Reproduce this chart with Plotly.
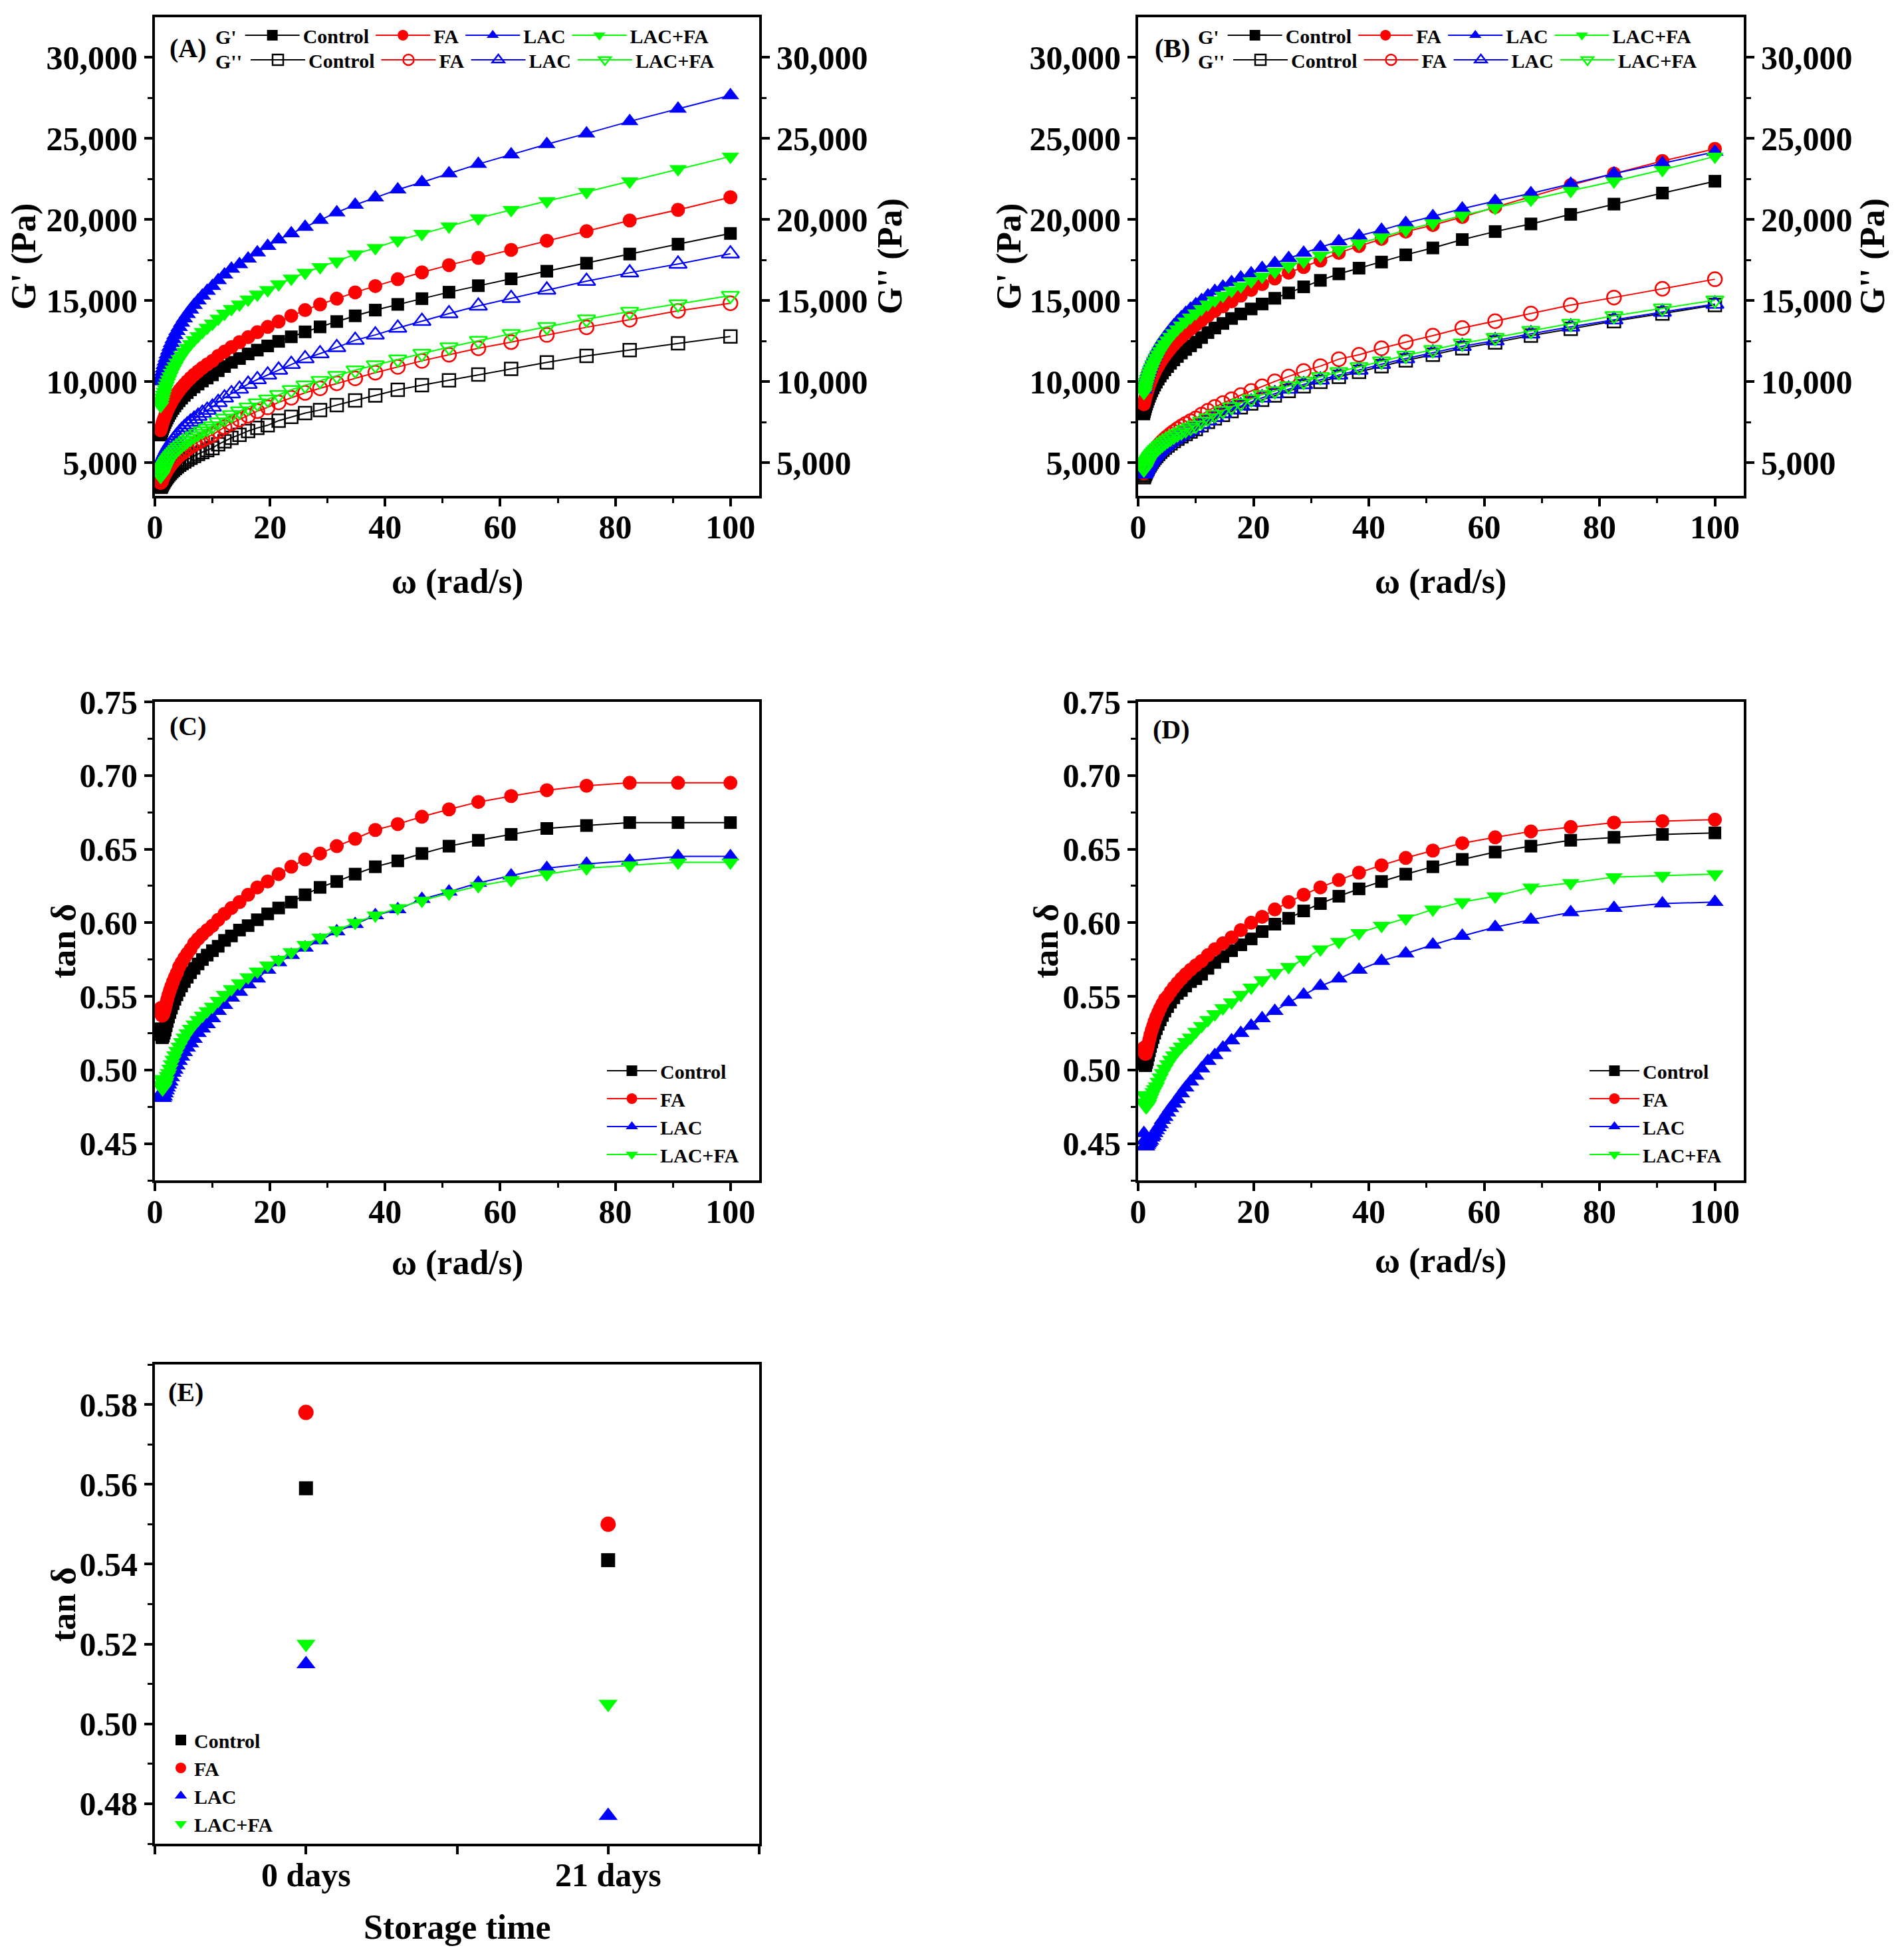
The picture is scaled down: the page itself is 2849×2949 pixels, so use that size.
import plotly.graph_objects as go

# ---------------- data ----------------
W = [1.00, 1.10, 1.21, 1.33, 1.47, 1.62, 1.78, 1.96, 2.15, 2.37, 2.61, 2.87, 3.16, 3.48, 3.83, 4.22,
     4.64, 5.11, 5.62, 6.19, 6.81, 7.50, 8.25, 9.09, 10.0, 11.0, 12.1, 13.3, 14.7, 16.2, 17.8, 19.6,
     21.5, 23.7, 26.1, 28.7, 31.6, 34.8, 38.3, 42.2, 46.4, 51.1, 56.2, 61.9, 68.1, 75.0, 82.5, 90.9, 100.0]

GROUPS = ["Control", "FA", "LAC", "LAC+FA"]

# Panel A (0 days) G' and G''
A_Gp_Control = [6700, 6822, 6948, 7075, 7204, 7338, 7475, 7612, 7753, 7894, 8042, 8191, 8343, 8495, 8654, 8814,
                8977, 9144, 9314, 9488, 9666, 9844, 10030, 10215, 10408, 10667, 10925, 11184, 11419, 11701, 11937,
                12196, 12478, 12759, 13065, 13371, 13700, 14053, 14406, 14759, 15112, 15512, 15912, 16335, 16805,
                17300, 17864, 18475, 19134]
A_Gp_FA = [7000, 7141, 7287, 7432, 7582, 7736, 7894, 8052, 8215, 8378, 8549, 8720, 8895, 9071, 9255, 9438,
           9627, 9819, 10016, 10217, 10422, 10628, 10842, 11056, 11278, 11584, 11843, 12125, 12430, 12736, 13042,
           13371, 13700, 14053, 14406, 14759, 15113, 15500, 15890, 16312, 16735, 17182, 17628, 18122, 18687,
           19275, 19933, 20592, 21368]
A_Gp_LAC = [10000, 10194, 10395, 10595, 10801, 11013, 11231, 11449, 11673, 11897, 12132, 12368, 12609, 12851,
            13104, 13357, 13616, 13882, 14152, 14429, 14712, 14995, 15289, 15584, 15890, 16240, 16595, 16950,
            17230, 17580, 17960, 18360, 18760, 19135, 19535, 19960, 20430, 20900, 21345, 21840, 22290, 22830,
            23415, 24000, 24640, 25300, 26050, 26825, 27650]
A_Gp_LACFA = [8500, 8668, 8841, 9013, 9191, 9374, 9562, 9750, 9944, 10137, 10340, 10543, 10752, 10960, 11179,
              11397, 11621, 11850, 12084, 12322, 12566, 12810, 13065, 13319, 13583, 13889, 14195, 14477, 14759,
              15065, 15370, 15653, 16006, 16358, 16711, 17064, 17417, 17850, 18240, 18710, 19110, 19580, 20075,
              20592, 21133, 21697, 22356, 23109, 23885]
A_Gpp_Control = [3500, 3579, 3660, 3742, 3825, 3911, 4000, 4088, 4179, 4270, 4366, 4462, 4560, 4658, 4761, 4863,
                 4969, 5076, 5186, 5299, 5414, 5528, 5648, 5768, 5892, 6127, 6315, 6527, 6715, 6950, 7138, 7303,
                 7585, 7821, 8056, 8244, 8550, 8832, 9138, 9491, 9773, 10078, 10431, 10784, 11184, 11584, 11937,
                 12360, 12783]
A_Gpp_FA = [3800, 3896, 3995, 4094, 4196, 4301, 4409, 4517, 4628, 4739, 4855, 4972, 5091, 5211, 5336, 5462,
            5590, 5721, 5855, 5992, 6132, 6272, 6418, 6563, 6715, 6950, 7185, 7421, 7656, 7891, 8173, 8409, 8715,
            8997, 9302, 9585, 9890, 10196, 10549, 10902, 11278, 11654, 12054, 12431, 12878, 13348, 13818, 14360,
            14830]
A_Gpp_LAC = [4700, 4823, 4950, 5077, 5208, 5342, 5480, 5618, 5760, 5902, 6051, 6201, 6354, 6507, 6667, 6828,
             6992, 7160, 7332, 7507, 7686, 7866, 8052, 8239, 8433, 8715, 8997, 9256, 9538, 9843, 10126, 10408,
             10714, 11067, 11419, 11725, 12101, 12550, 12878, 13301, 13725, 14195, 14666, 15136, 15653, 16194,
             16711, 17252, 17887]
A_Gpp_LACFA = [4200, 4301, 4405, 4509, 4616, 4726, 4839, 4952, 5068, 5184, 5306, 5429, 5554, 5679, 5811, 5942,
               6076, 6214, 6354, 6498, 6645, 6791, 6944, 7097, 7256, 7491, 7726, 7938, 8173, 8409, 8667, 8903,
               9185, 9491, 9773, 10055, 10361, 10700, 11019, 11372, 11725, 12125, 12525, 12948, 13371, 13842,
               14313, 14783, 15300]

# Panel B (21 days) G' and G''
B_Gp_Control = [8000, 8146, 8297, 8448, 8603, 8762, 8926, 9090, 9258, 9427, 9604, 9781, 9963, 10145, 10335,
                10526, 10721, 10920, 11124, 11332, 11545, 11757, 11979, 12201, 12431, 12713, 13019, 13301, 13583,
                13889, 14171, 14477, 14783, 15135, 15465, 15841, 16241, 16641, 16994, 17370, 17817, 18240, 18758,
                19252, 19722, 20310, 20945, 21627, 22356]
B_Gp_FA = [8600, 8761, 8928, 9094, 9265, 9441, 9622, 9803, 9988, 10174, 10370, 10565, 10766, 10966, 11177,
           11387, 11602, 11822, 12047, 12277, 12511, 12746, 12990, 13235, 13489, 13771, 14054, 14359, 14641,
           14947, 15300, 15653, 16006, 16358, 16711, 17064, 17464, 17934, 18358, 18800, 19250, 19650, 20150,
           20757, 21415, 22121, 22826, 23603, 24355]
B_Gp_LAC = [9500, 9674, 9852, 10031, 10215, 10405, 10599, 10794, 10994, 11193, 11404, 11614, 11830, 12045,
            12271, 12498, 12729, 12966, 13208, 13455, 13707, 13960, 14223, 14486, 14759, 15018, 15300, 15582,
            15841, 16123, 16405, 16664, 16994, 17299, 17605, 17934, 18287, 18640, 18993, 19346, 19769, 20193,
            20663, 21133, 21603, 22191, 22826, 23462, 24167]
B_Gp_LACFA = [9300, 9462, 9630, 9797, 9969, 10146, 10328, 10510, 10697, 10884, 11080, 11277, 11479, 11680,
              11892, 12103, 12320, 12541, 12767, 12998, 13234, 13470, 13716, 13962, 14218, 14477, 14759, 15018,
              15300, 15606, 15888, 16194, 16476, 16782, 17111, 17417, 17770, 18122, 18523, 18899, 19346, 19769,
              20240, 20710, 21227, 21768, 22356, 23062, 23885]
B_Gpp_Control = [4100, 4198, 4299, 4400, 4504, 4610, 4720, 4830, 4943, 5055, 5174, 5293, 5414, 5536, 5664,
                 5791, 5922, 6055, 6192, 6331, 6474, 6616, 6764, 6913, 7067, 7302, 7514, 7726, 7938, 8173, 8409,
                 8644, 8879, 9138, 9420, 9702, 9984, 10290, 10596, 10949, 11301, 11654, 12054, 12407, 12831,
                 13254, 13725, 14195, 14713]
B_Gpp_FA = [4400, 4510, 4623, 4736, 4852, 4972, 5095, 5218, 5345, 5471, 5604, 5737, 5873, 6010, 6153, 6296,
            6442, 6592, 6745, 6901, 7061, 7220, 7387, 7553, 7726, 7961, 8197, 8432, 8667, 8903, 9161, 9420, 9702,
            10008, 10314, 10643, 10949, 11380, 11654, 12054, 12431, 12831, 13301, 13725, 14195, 14713, 15183,
            15724, 16311]
B_Gpp_LAC = [4300, 4394, 4490, 4587, 4686, 4788, 4893, 4998, 5106, 5214, 5327, 5441, 5557, 5674, 5796, 5918,
             6043, 6170, 6301, 6434, 6570, 6707, 6849, 6990, 7138, 7373, 7585, 7797, 8032, 8267, 8503, 8738, 8997,
             9256, 9538, 9820, 10102, 10408, 10714, 11067, 11419, 11772, 12172, 12525, 12948, 13371, 13818,
             14289, 14783]
B_Gpp_LACFA = [4600, 4689, 4781, 4873, 4967, 5065, 5165, 5265, 5367, 5470, 5578, 5686, 5797, 5908, 6024, 6140,
               6259, 6381, 6505, 6632, 6762, 6891, 7026, 7161, 7302, 7538, 7749, 7961, 8197, 8432, 8667, 8926,
               9185, 9420, 9726, 10008, 10290, 10596, 10902, 11254, 11607, 11960, 12360, 12713, 13136, 13583,
               14054, 14524, 15018]

# Panel C (0 days) tan delta
C_Control = [0.528, 0.524, 0.522, 0.522, 0.523, 0.525, 0.527, 0.530, 0.533, 0.536, 0.539, 0.542, 0.545, 0.548,
             0.551, 0.554, 0.557, 0.560, 0.563, 0.566, 0.569, 0.572, 0.575, 0.578, 0.581, 0.584, 0.588, 0.591,
             0.595, 0.598, 0.602, 0.606, 0.610, 0.614, 0.619, 0.624, 0.628, 0.633, 0.638, 0.642, 0.647, 0.652,
             0.656, 0.660, 0.664, 0.666, 0.668, 0.668, 0.668]
C_FA = [0.542, 0.538, 0.537, 0.537, 0.538, 0.540, 0.542, 0.545, 0.548, 0.551, 0.554, 0.557, 0.560, 0.563, 0.566,
        0.570, 0.573, 0.576, 0.579, 0.582, 0.586, 0.589, 0.592, 0.595, 0.598, 0.602, 0.606, 0.610, 0.614, 0.619,
        0.624, 0.628, 0.633, 0.638, 0.643, 0.647, 0.652, 0.657, 0.663, 0.667, 0.672, 0.677, 0.682, 0.686, 0.690,
        0.693, 0.695, 0.695, 0.695]
C_LAC = [0.484, 0.482, 0.481, 0.481, 0.481, 0.482, 0.484, 0.486, 0.488, 0.490, 0.492, 0.495, 0.498, 0.500, 0.503,
         0.506, 0.509, 0.512, 0.515, 0.518, 0.521, 0.525, 0.528, 0.531, 0.535, 0.540, 0.544, 0.549, 0.553, 0.558,
         0.562, 0.568, 0.573, 0.578, 0.583, 0.588, 0.594, 0.599, 0.605, 0.609, 0.616, 0.621, 0.627, 0.632, 0.637,
         0.640, 0.642, 0.645, 0.645]
C_LACFA = [0.494, 0.490, 0.488, 0.487, 0.488, 0.489, 0.491, 0.493, 0.496, 0.498, 0.501, 0.504, 0.507, 0.510,
           0.513, 0.516, 0.519, 0.522, 0.525, 0.528, 0.531, 0.534, 0.537, 0.540, 0.543, 0.547, 0.551, 0.555, 0.559,
           0.563, 0.567, 0.571, 0.575, 0.580, 0.585, 0.590, 0.595, 0.600, 0.605, 0.610, 0.615, 0.620, 0.625,
           0.629, 0.633, 0.637, 0.639, 0.641, 0.641]

# Panel D (21 days) tan delta
D_Control = [0.507, 0.504, 0.503, 0.503, 0.505, 0.507, 0.510, 0.513, 0.516, 0.519, 0.522, 0.525, 0.528, 0.531,
             0.534, 0.537, 0.540, 0.543, 0.546, 0.549, 0.552, 0.554, 0.557, 0.560, 0.562, 0.565, 0.569, 0.573,
             0.577, 0.581, 0.585, 0.589, 0.594, 0.599, 0.603, 0.608, 0.613, 0.618, 0.623, 0.628, 0.633, 0.638,
             0.643, 0.648, 0.652, 0.656, 0.658, 0.660, 0.661]
D_FA = [0.515, 0.512, 0.511, 0.511, 0.513, 0.515, 0.518, 0.521, 0.524, 0.527, 0.530, 0.533, 0.536, 0.539, 0.542,
        0.545, 0.548, 0.550, 0.553, 0.556, 0.559, 0.562, 0.565, 0.568, 0.571, 0.574, 0.578, 0.582, 0.586, 0.590,
        0.595, 0.600, 0.604, 0.609, 0.614, 0.619, 0.624, 0.629, 0.634, 0.639, 0.644, 0.649, 0.654, 0.658, 0.662,
        0.665, 0.668, 0.669, 0.670]
D_LAC = [0.457, 0.452, 0.449, 0.448, 0.448, 0.449, 0.450, 0.451, 0.452, 0.454, 0.455, 0.457, 0.459, 0.461, 0.463,
         0.466, 0.468, 0.471, 0.474, 0.477, 0.480, 0.484, 0.488, 0.492, 0.496, 0.501, 0.506, 0.510, 0.515, 0.520,
         0.525, 0.530, 0.535, 0.540, 0.546, 0.551, 0.557, 0.562, 0.568, 0.574, 0.579, 0.585, 0.591, 0.597, 0.602,
         0.607, 0.610, 0.613, 0.614]
D_LACFA = [0.483, 0.478, 0.476, 0.475, 0.475, 0.476, 0.477, 0.479, 0.481, 0.483, 0.485, 0.487, 0.489, 0.492,
           0.495, 0.498, 0.501, 0.504, 0.507, 0.510, 0.513, 0.516, 0.519, 0.522, 0.526, 0.530, 0.534, 0.538, 0.542,
           0.546, 0.551, 0.556, 0.561, 0.566, 0.570, 0.575, 0.582, 0.587, 0.593, 0.598, 0.603, 0.609, 0.614,
           0.618, 0.624, 0.627, 0.631, 0.632, 0.633]

# Panel E tan delta vs storage time
E_DAYS = ["0 days", "21 days"]
E_Control = [0.559, 0.541]
E_FA = [0.578, 0.550]
E_LAC = [0.515, 0.477]
E_LACFA = [0.520, 0.505]

# ---------------- styling ----------------
FAM = "Liberation Serif"
W_PX, H_PX = 2849, 2949
OFF = 8  # page body margin of the html page


def fnt(size):
    return dict(family=FAM, size=size, color="black", weight="bold")


def px(x):
    return (x - OFF) / W_PX


def py(y):
    return 1 - (y - OFF) / H_PX


COL = {"Control": "#000000", "FA": "#ff0000", "LAC": "#0000ff", "LAC+FA": "#00ff00"}
SYM = {"Control": "square", "FA": "circle", "LAC": "triangle-up", "LAC+FA": "triangle-down"}
MSZ = {"Control": 19, "FA": 21, "LAC": 23, "LAC+FA": 23}

fig = go.Figure()


def add_line(x, y, g, xa, ya, leg, open_=False):
    sym = SYM[g] + ("-open" if open_ else "")
    marker = dict(symbol=sym, size=MSZ[g], color=COL[g])
    if open_:
        marker["line"] = dict(color=COL[g], width=2.5)
    fig.add_trace(go.Scatter(x=x, y=y, mode="lines+markers", name=g, xaxis=xa, yaxis=ya,
                             line=dict(color=COL[g], width=2), marker=marker, legend=leg))


A_Gp = [A_Gp_Control, A_Gp_FA, A_Gp_LAC, A_Gp_LACFA]
A_Gpp = [A_Gpp_Control, A_Gpp_FA, A_Gpp_LAC, A_Gpp_LACFA]
B_Gp = [B_Gp_Control, B_Gp_FA, B_Gp_LAC, B_Gp_LACFA]
B_Gpp = [B_Gpp_Control, B_Gpp_FA, B_Gpp_LAC, B_Gpp_LACFA]
C_all = [C_Control, C_FA, C_LAC, C_LACFA]
D_all = [D_Control, D_FA, D_LAC, D_LACFA]
E_all = [E_Control, E_FA, E_LAC, E_LACFA]

for g, y in zip(GROUPS, A_Gp):
    add_line(W, y, g, "x", "y", "legend")
for g, y in zip(GROUPS, A_Gpp):
    add_line(W, y, g, "x", "y2", "legend2", open_=True)
for g, y in zip(GROUPS, B_Gp):
    add_line(W, y, g, "x2", "y3", "legend3")
for g, y in zip(GROUPS, B_Gpp):
    add_line(W, y, g, "x2", "y4", "legend4", open_=True)
for g, y in zip(GROUPS, C_all):
    add_line(W, y, g, "x3", "y5", "legend5")
for g, y in zip(GROUPS, D_all):
    add_line(W, y, g, "x4", "y6", "legend6")
for g, y in zip(GROUPS, E_all):
    fig.add_trace(go.Scatter(x=E_DAYS, y=y, mode="markers", name=g, xaxis="x5", yaxis="y7",
                             marker=dict(symbol=SYM[g], size=MSZ[g] + 2, color=COL[g]),
                             legend="legend7"))

# domains (pixels -> paper)
XA = [px(233), px(1142)]
XB = [px(1712), px(2623)]
R1 = [py(746), py(26)]
R2 = [py(1776), py(1056)]
R3 = [py(2774), py(2053)]

AX = dict(showline=True, linewidth=4, linecolor="black", ticks="outside", ticklen=12, tickwidth=4,
          tickcolor="black", showgrid=False, zeroline=False, tickfont=fnt(50), automargin=False)


def xax(domain, anchor):
    return dict(AX, domain=domain, anchor=anchor, range=[0, 105], tick0=0, dtick=20, mirror=True,
                ticklabelstandoff=-12,
                minor=dict(ticks="outside", ticklen=7, tickwidth=3, tickcolor="black", tick0=0, dtick=10))


def gax(domain, anchor, side="left", overlay=None):
    d = dict(AX, domain=domain, anchor=anchor, range=[2950, 32470], tick0=0, dtick=5000, tickformat=",",
             side=side, minor=dict(ticks="outside", ticklen=7, tickwidth=3, tickcolor="black", tick0=0, dtick=2500))
    if overlay:
        d["overlaying"] = overlay
    return d


def tax(domain, anchor, rng, dtick, mdt, fmt):
    return dict(AX, domain=domain, anchor=anchor, range=rng, tick0=0, dtick=dtick, tickformat=fmt, mirror=True,
                minor=dict(ticks="outside", ticklen=7, tickwidth=3, tickcolor="black", tick0=0, dtick=mdt))


layout = dict(
    width=W_PX, height=H_PX, margin=dict(l=0, r=0, t=0, b=0, pad=0, autoexpand=False),
    paper_bgcolor="white", plot_bgcolor="white", showlegend=True,
    xaxis=xax(XA, "y"),
    yaxis=gax(R1, "x"),
    yaxis2=gax(R1, "x", side="right", overlay="y"),
    xaxis2=xax(XB, "y3"),
    yaxis3=gax(R1, "x2"),
    yaxis4=gax(R1, "x2", side="right", overlay="y3"),
    xaxis3=xax(XA, "y5"),
    yaxis5=tax(R2, "x3", [0.425, 0.75], 0.05, 0.025, ".2f"),
    xaxis4=xax(XB, "y6"),
    yaxis6=tax(R2, "x4", [0.425, 0.75], 0.05, 0.025, ".2f"),
    xaxis5=dict(AX, domain=XA, anchor="y7", type="category", range=[-0.5, 1.5], mirror=True,
                categoryorder="array", categoryarray=E_DAYS, ticklabelstandoff=-12,
                minor=dict(ticks="outside", ticklen=12, tickwidth=4, tickcolor="black",
                           tickmode="array", tickvals=[-0.5, 0.5, 1.5])),
    yaxis7=tax(R3, "x5", [0.47, 0.59], 0.02, 0.01, ".2f"),
)


def hleg(x, y, title):
    return dict(x=x, y=y, xanchor="left", yanchor="middle", orientation="h", font=fnt(30),
                title=dict(text=title, side="left", font=fnt(30)), bgcolor="rgba(0,0,0,0)",
                itemwidth=82, traceorder="normal")


def vleg(x, y):
    return dict(x=x, y=y, xanchor="left", yanchor="top", orientation="v", font=fnt(30),
                bgcolor="rgba(0,0,0,0)", itemwidth=75, traceorder="normal", tracegroupgap=0)


layout["legend"] = hleg(px(322), py(53), "G'")
layout["legend2"] = hleg(px(322), py(90), "G''")
layout["legend3"] = hleg(px(1800), py(53), "G'")
layout["legend4"] = hleg(px(1800), py(90), "G''")
layout["legend5"] = vleg(px(908), py(1585))
layout["legend6"] = vleg(px(2386), py(1585))
layout["legend7"] = dict(x=px(252), y=py(2592), xanchor="left", yanchor="top", orientation="v", font=fnt(30),
                         bgcolor="rgba(0,0,0,0)", traceorder="normal")

ann = []


def txt(x, y, s, size, angle=0):
    ann.append(dict(x=px(x), y=py(y), xref="paper", yref="paper", text=s, showarrow=False,
                    font=fnt(size), textangle=angle, xanchor="center", yanchor="middle"))


txt(283, 72, "(A)", 40)
txt(1764, 72, "(B)", 40)
txt(283, 1092, "(C)", 40)
txt(1762, 1097, "(D)", 40)
txt(279, 2094, "(E)", 40)

txt(36, 386, "G' (Pa)", 52, -90)
txt(1339, 386, "G'' (Pa)", 52, -90)
txt(1518, 386, "G' (Pa)", 52, -90)
txt(2817, 386, "G'' (Pa)", 52, -90)
txt(688, 875, "ω (rad/s)", 52)
txt(2167, 875, "ω (rad/s)", 52)

txt(95, 1416, "tan δ", 52, -90)
txt(1573, 1416, "tan δ", 52, -90)
txt(688, 1900, "ω (rad/s)", 52)
txt(2167, 1897, "ω (rad/s)", 52)

txt(95, 2414, "tan δ", 52, -90)
txt(688, 2899, "Storage time", 52)

layout["annotations"] = ann
fig.update_layout(**layout)

fig.write_html("out.html")
